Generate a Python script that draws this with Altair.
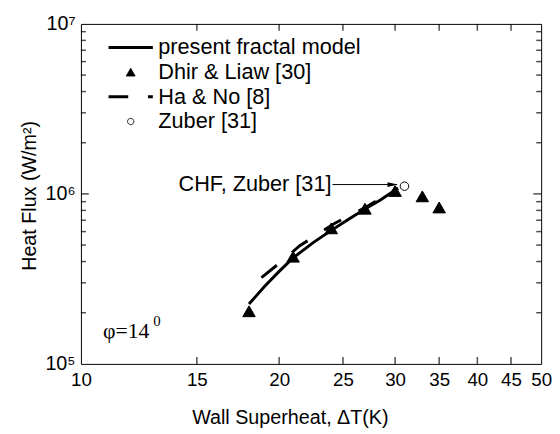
import altair as alt
import pandas as pd

# ---------------- data ----------------
model_x = [18, 19, 20, 21, 22.5, 24, 25.5, 27, 28.5, 30.3]
model_y = [2.25e5, 2.85e5, 3.5e5, 4.2e5, 5.15e5, 6.1e5, 7.1e5, 8.15e5, 9.2e5, 1.08e6]

hano_x = [18.8, 20, 21.5, 22.8, 24.3, 27, 30.3]
hano_y = [3.22e5, 3.9e5, 4.96e5, 5.75e5, 6.72e5, 8.3e5, 1.08e6]

dhir_x = [18, 21, 24, 27, 30, 33, 35]
dhir_y = [2.04e5, 4.27e5, 6.27e5, 8.18e5, 1.04e6, 9.67e5, 8.32e5]

zuber_x = [31]
zuber_y = [1.11e6]

series_names = ["present fractal model", "Dhir & Liaw [30]", "Ha & No [8]", "Zuber [31]"]

x_ticks = [10, 15, 20, 25, 30, 35, 40, 45, 50]
x_inner_ticks = [15, 20, 25, 30, 35, 40, 45]
y_ticks = [1e5, 1e6, 1e7]
y_tick_labels = ["10⁵", "10⁶", "10⁷"]
y_minor = [2e5, 3e5, 4e5, 5e5, 6e5, 7e5, 8e5, 9e5,
           2e6, 3e6, 4e6, 5e6, 6e6, 7e6, 8e6, 9e6]
y_inner_major = [1e6]

ann_text = ["CHF, Zuber [31]"]
ann_x = [24.1]
ann_x2 = [30.2]
ann_y = [1.135e6]
ann_head_x = [29.75]

phi_text = ["φ=14"]
phi_sup = ["0"]
phi_x = [10.8]
phi_y = [1.42e5]

# ---------------- styling ----------------
FONT = "Liberation Sans"
W, H = 467, 345
xs = alt.Scale(type="log", domain=[10, 50], nice=False)
ys = alt.Scale(type="log", domain=[1e5, 1e7], nice=False)


def ax(**kw):
    base = dict(domain=False, grid=False, ticks=False,
                labelColor="black", labelFont=FONT, titleFont=FONT,
                titleColor="black", titleFontWeight="normal", labelOverlap=False)
    base.update(kw)
    return alt.Axis(**base)


label_expr = "''"
for v, lab in zip(y_ticks, y_tick_labels):
    label_expr = f"datum.value == {v!r} ? '{lab}' : " + label_expr

x_bottom = ax(orient="bottom", values=x_ticks, format="d",
              labelFontSize=19, labelPadding=7, labelFlush=False,
              title="Wall Superheat, ΔT(K)", titleFontSize=20,
              titleX=212, titleY=60, titleBaseline="alphabetic", titleAlign="center")
y_left = ax(orient="left", values=y_ticks, labelExpr=label_expr,
            labelFontSize=20, labelPadding=6, labelFlush=False,
            title="Heat Flux (W/m²)", titleFontSize=20, titleAngle=270,
            titleX=-52, titleY=174, titleBaseline="middle", titleAlign="center")

df_model = pd.DataFrame({"x": model_x, "y": model_y})
df_hano = pd.DataFrame({"x": hano_x, "y": hano_y})
df_dhir = pd.DataFrame({"x": dhir_x, "y": dhir_y})
df_zuber = pd.DataFrame({"x": zuber_x, "y": zuber_y})
df_ann = pd.DataFrame({"text": ann_text, "x": ann_x, "x2": ann_x2, "y": ann_y, "hx": ann_head_x})
df_phi = pd.DataFrame({"text": phi_text, "sup": phi_sup, "x": phi_x, "y": phi_y})
df_leg = pd.DataFrame({"series": series_names})
df_xt = pd.DataFrame({"tv": x_inner_ticks})
df_ymaj = pd.DataFrame({"tv": y_inner_major})
df_ymin = pd.DataFrame({"tv": y_minor})

line_model = alt.Chart(df_model).mark_line(color="black", strokeWidth=3, clip=True).encode(
    x=alt.X("x:Q", scale=xs, axis=x_bottom),
    y=alt.Y("y:Q", scale=ys, axis=y_left),
)
line_hano = alt.Chart(df_hano).mark_line(color="black", strokeWidth=3, strokeDash=[20, 20], clip=True).encode(
    x=alt.X("x:Q", scale=xs, axis=None),
    y=alt.Y("y:Q", scale=ys, axis=None),
)
pts_dhir = alt.Chart(df_dhir).mark_point(shape="triangle-up", filled=True, fill="black",
                                          stroke="black", strokeWidth=1, size=160, opacity=1).encode(
    x=alt.X("x:Q", scale=xs, axis=None),
    y=alt.Y("y:Q", scale=ys, axis=None),
)
arrow_line = alt.Chart(df_ann).mark_rule(color="black", strokeWidth=1).encode(
    x=alt.X("x:Q", scale=xs, axis=None),
    x2="x2:Q",
    y=alt.Y("y:Q", scale=ys, axis=None),
)
arrow_head = alt.Chart(df_ann).mark_point(shape="M-1,-0.45L1,0L-1,0.45Z", filled=True,
                                          color="black", size=110, opacity=1).encode(
    x=alt.X("hx:Q", scale=xs, axis=None),
    y=alt.Y("y:Q", scale=ys, axis=None),
)
pts_zuber = alt.Chart(df_zuber).mark_point(shape="circle", filled=True, fill="white",
                                            stroke="black", strokeWidth=1, size=75, opacity=1).encode(
    x=alt.X("x:Q", scale=xs, axis=None),
    y=alt.Y("y:Q", scale=ys, axis=None),
)
ann_label = alt.Chart(df_ann).mark_text(align="right", baseline="middle", font=FONT,
                                        fontSize=22, color="black", dx=-1).encode(
    x=alt.X("x:Q", scale=xs, axis=None),
    y=alt.Y("y:Q", scale=ys, axis=None),
    text="text:N",
)
phi_label = alt.Chart(df_phi).mark_text(align="left", baseline="alphabetic", font="Liberation Serif",
                                        fontSize=22, color="black").encode(
    x=alt.X("x:Q", scale=xs, axis=None),
    y=alt.Y("y:Q", scale=ys, axis=None),
    text="text:N",
)
phi_sup_label = alt.Chart(df_phi).mark_text(align="left", baseline="alphabetic", font="Liberation Serif",
                                            fontSize=15, color="black", dx=51, dy=-12).encode(
    x=alt.X("x:Q", scale=xs, axis=None),
    y=alt.Y("y:Q", scale=ys, axis=None),
    text="sup:N",
)

# inward tick marks on all four sides, positioned along the axes by the scales
TK = 1.5
t_bottom = alt.Chart(df_xt).mark_tick(color="black", thickness=TK, size=7, orient="vertical").encode(
    x=alt.X("tv:Q", scale=xs, axis=None), y=alt.value(H - 3.5))
t_top = alt.Chart(df_xt).mark_tick(color="black", thickness=TK, size=7, orient="vertical").encode(
    x=alt.X("tv:Q", scale=xs, axis=None), y=alt.value(3.5))
t_left_major = alt.Chart(df_ymaj).mark_tick(color="black", thickness=TK, size=8, orient="horizontal").encode(
    y=alt.Y("tv:Q", scale=ys, axis=None), x=alt.value(4))
t_right_major = alt.Chart(df_ymaj).mark_tick(color="black", thickness=TK, size=8, orient="horizontal").encode(
    y=alt.Y("tv:Q", scale=ys, axis=None), x=alt.value(W - 4))
t_left_minor = alt.Chart(df_ymin).mark_tick(color="black", thickness=TK, size=5, orient="horizontal").encode(
    y=alt.Y("tv:Q", scale=ys, axis=None), x=alt.value(2.5))
t_right_minor = alt.Chart(df_ymin).mark_tick(color="black", thickness=TK, size=5, orient="horizontal").encode(
    y=alt.Y("tv:Q", scale=ys, axis=None), x=alt.value(W - 2.5))

leg = alt.Legend(title=None, orient="none", legendX=26.5, legendY=14, labelFont=FONT,
                 labelFontSize=22, labelColor="black", labelOffset=4, rowPadding=3,
                 clipHeight=20, padding=0, labelLimit=500)
legend_layer = alt.Chart(df_leg).transform_calculate(lx="1", ly="1").mark_point(
    filled=True, opacity=1, clip=True).encode(
    x=alt.X("lx:Q", scale=xs, axis=None),
    y=alt.Y("ly:Q", scale=ys, axis=None),
    shape=alt.Shape("series:N", scale=alt.Scale(domain=series_names,
                    range=["stroke", "triangle-up", "stroke", "circle"]), legend=leg),
    fill=alt.Fill("series:N", scale=alt.Scale(domain=series_names,
                  range=["black", "black", "black", "white"]), legend=leg),
    stroke=alt.Stroke("series:N", scale=alt.Scale(domain=series_names,
                      range=["black", "black", "black", "black"]), legend=leg),
    size=alt.Size("series:N", scale=alt.Scale(type="ordinal", domain=series_names,
                  range=[2025, 80, 2025, 40]), legend=leg),
    strokeWidth=alt.StrokeWidth("series:N", scale=alt.Scale(type="ordinal", domain=series_names,
                                range=[3, 1, 3, 1]), legend=leg),
    strokeDash=alt.StrokeDash("series:N", scale=alt.Scale(domain=series_names,
                              range=[[1, 0], [1, 0], [20, 20], [1, 0]]), legend=leg),
)

chart = alt.layer(
    line_model, line_hano, pts_dhir, arrow_line, arrow_head, pts_zuber,
    ann_label, phi_label, phi_sup_label,
    t_bottom, t_top, t_left_major, t_right_major, t_left_minor, t_right_minor,
    legend_layer,
).resolve_axis(x="independent", y="independent").properties(
    width=W, height=H,
    padding={"left": 74, "top": 13, "right": 11, "bottom": 68},
    autosize=alt.AutoSizeParams(type="none"),
    background="white",
).configure_view(stroke="black", strokeWidth=1)

chart.save("out.html", embed_options={"renderer": "svg", "actions": False})
